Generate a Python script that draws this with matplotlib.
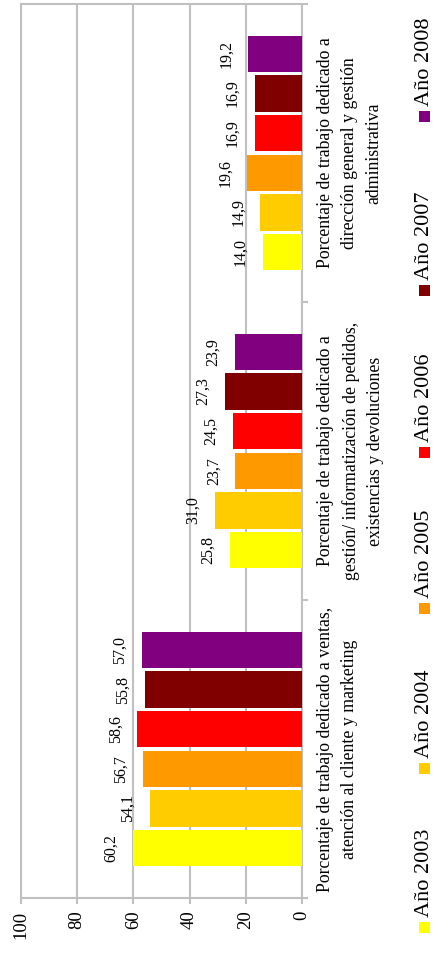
import matplotlib
matplotlib.use("Agg")
import matplotlib.pyplot as plt
from matplotlib.transforms import blended_transform_factory
from matplotlib.patches import Rectangle
import numpy as np

plt.rcParams['font.family'] = ['Liberation Serif', 'DejaVu Serif']

categories = [
    "Porcentaje de trabajo dedicado a ventas,\natención al cliente y marketing",
    "Porcentaje de trabajo dedicado a\ngestión/ informatización de pedidos,\nexistencias y devoluciones",
    "Porcentaje de trabajo dedicado a\ndirección general y gestión\nadministrativa",
]
years = ["Año 2003", "Año 2004", "Año 2005", "Año 2006", "Año 2007", "Año 2008"]
colors = ["#FFFF00", "#FFCC00", "#FF9900", "#FF0000", "#800000", "#800080"]

v2003 = [60.2, 25.8, 14.0]
v2004 = [54.1, 31.0, 14.9]
v2005 = [56.7, 23.7, 19.6]
v2006 = [58.6, 24.5, 16.9]
v2007 = [55.8, 27.3, 16.9]
v2008 = [57.0, 23.9, 19.2]
series = [v2003, v2004, v2005, v2006, v2007, v2008]

ticks = [0, 20, 40, 60, 80, 100]

W, H = 434, 957
fig = plt.figure(figsize=(W / 100, H / 100), dpi=100)
ax = fig.add_axes([21 / W, (H - 898) / H, (302 - 21) / W, (898 - 4) / H])

grid_c = "#c0c0c0"
pitch = 0.133
bar_h = 0.122
idx = np.arange(len(categories))

for j, (vals, col) in enumerate(zip(series, colors)):
    ypos = idx + (j - 2.5) * pitch
    ax.barh(ypos, vals, height=bar_h, color=col, zorder=3)
    for yv, v in zip(ypos, vals):
        ax.annotate(f"{v:.1f}".replace(".", ","), xy=(v, yv),
                    xytext=(-18, 0), textcoords="offset pixels",
                    rotation=90, rotation_mode="anchor",
                    ha="center", va="baseline", fontsize=11.5, color="#000000")

ax.set_xlim(100, 0)
ax.set_ylim(-0.5, 2.5)
ax.set_xticks(ticks)
ax.set_xticklabels([str(t) for t in ticks], rotation=90, fontsize=13.5)
ax.xaxis.grid(True, color=grid_c, linewidth=1.5, zorder=0)
ax.tick_params(axis="x", direction="out", length=4, width=1.5, color=grid_c, pad=5)

# category boundaries on the right side
ax.yaxis.tick_right()
ax.set_yticks([-0.5, 0.5, 1.5, 2.5])
ax.set_yticklabels([])
ax.tick_params(axis="y", direction="out", length=4, width=1.5, color=grid_c)

for s in ax.spines.values():
    s.set_color(grid_c)
    s.set_linewidth(1.5)

# category labels beside the category axis
trans = blended_transform_factory(fig.transFigure, ax.transData)
for i, lab in enumerate(categories):
    ax.text(317 / W, i, lab, transform=trans, rotation=90, ha="left", va="center",
            multialignment="center", fontsize=12.8, linespacing=1.55)

# legend along the right edge
sq_centers = [927, 768, 608, 452, 290, 116]
sq = 11
for name, col, yc in zip(years, colors, sq_centers):
    fig.patches.append(Rectangle(((424 - sq / 2) / W, (H - yc - sq / 2) / H), sq / W, sq / H,
                                 transform=fig.transFigure, facecolor=col, edgecolor="none"))
    fig.text(429 / W, (H - (yc - 10)) / H, name, rotation=90, rotation_mode="anchor",
             ha="left", va="baseline", fontsize=16)

fig.savefig("out.png", dpi=100)
